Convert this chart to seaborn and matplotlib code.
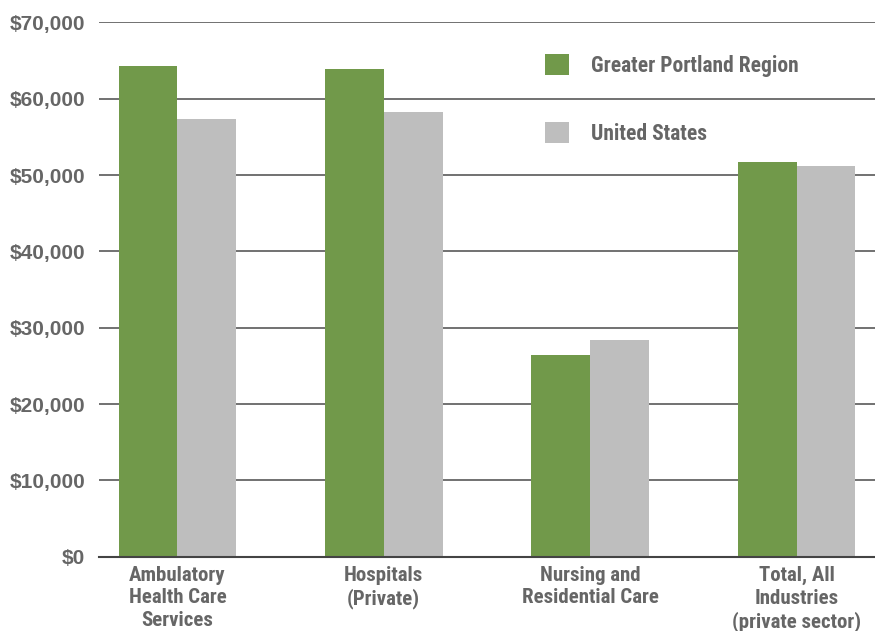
import pandas as pd
import seaborn as sns
import matplotlib.pyplot as plt
from matplotlib.patches import Patch
from matplotlib.ticker import FuncFormatter

categories = ['Ambulatory\nHealth Care\nServices', 'Hospitals\n(Private)',
              'Nursing and\nResidential Care', 'Total, All\nIndustries\n(private sector)']
portland = [64300, 63900, 26400, 51700]
united_states = [57300, 58300, 28350, 51200]
series_names = ['Greater Portland Region', 'United States']
colors = ['#71994A', '#BEBEBE']

df = pd.DataFrame({
    'category': categories * 2,
    'wage': portland + united_states,
    'series': [series_names[0]] * 4 + [series_names[1]] * 4,
})

sns.set_style('white')
text_grey = '#666666'
narrow = ['Roboto Condensed', 'Archivo Narrow', 'PT Sans Narrow', 'Sofia Sans Condensed', 'DejaVu Sans']

fig = plt.figure(figsize=(8.75, 6.31), dpi=100)
ax = fig.add_axes([99 / 875, 1 - 556.7 / 631, 1 - 99 / 875, (556.7 - 22.4) / 631])

sns.barplot(data=df, x='category', y='wage', hue='series', palette=colors,
            width=0.57, gap=0, linewidth=0, saturation=1, legend=False, ax=ax)

ax.set_ylim(0, 70000)
ax.set_xlim(-0.38, 3.38)
ax.set_yticks(range(0, 70001, 10000))
ax.yaxis.set_major_formatter(FuncFormatter(lambda v, p: f'${int(v):,}'))
ax.set_axisbelow(True)
ax.yaxis.grid(True, color='#4a4a4a', linewidth=1.1)
ax.xaxis.grid(False)
for s in ['top', 'right', 'left']:
    ax.spines[s].set_visible(False)
ax.spines['bottom'].set_color('#444444')
ax.spines['bottom'].set_linewidth(1.5)
ax.set_xlabel('')
ax.set_ylabel('')
ax.tick_params(axis='y', length=0, pad=10, labelsize=15, labelcolor=text_grey)
ax.tick_params(axis='x', length=0, pad=6.5, labelcolor=text_grey)
for lab in ax.get_yticklabels():
    lab.set_fontweight('bold')
    lab.set_family(['Liberation Sans', 'DejaVu Sans'])
for lab in ax.get_xticklabels():
    lab.set_fontweight('bold')
    lab.set_family(narrow)
    lab.set_fontsize(15)
    lab.set_linespacing(1.25)

handles = [Patch(facecolor=c, edgecolor='none') for c in colors]
leg = fig.legend(handles, series_names, loc='upper left',
                 bbox_to_anchor=(545 / 875, 1 - 54 / 631), frameon=False,
                 borderpad=0, borderaxespad=0, handlelength=1.12, handleheight=1.12,
                 handletextpad=1.03, labelspacing=2.1,
                 prop={'family': narrow, 'weight': 'bold', 'size': 15.5})
for t in leg.get_texts():
    t.set_color(text_grey)

fig.savefig('out.png', dpi=100)
